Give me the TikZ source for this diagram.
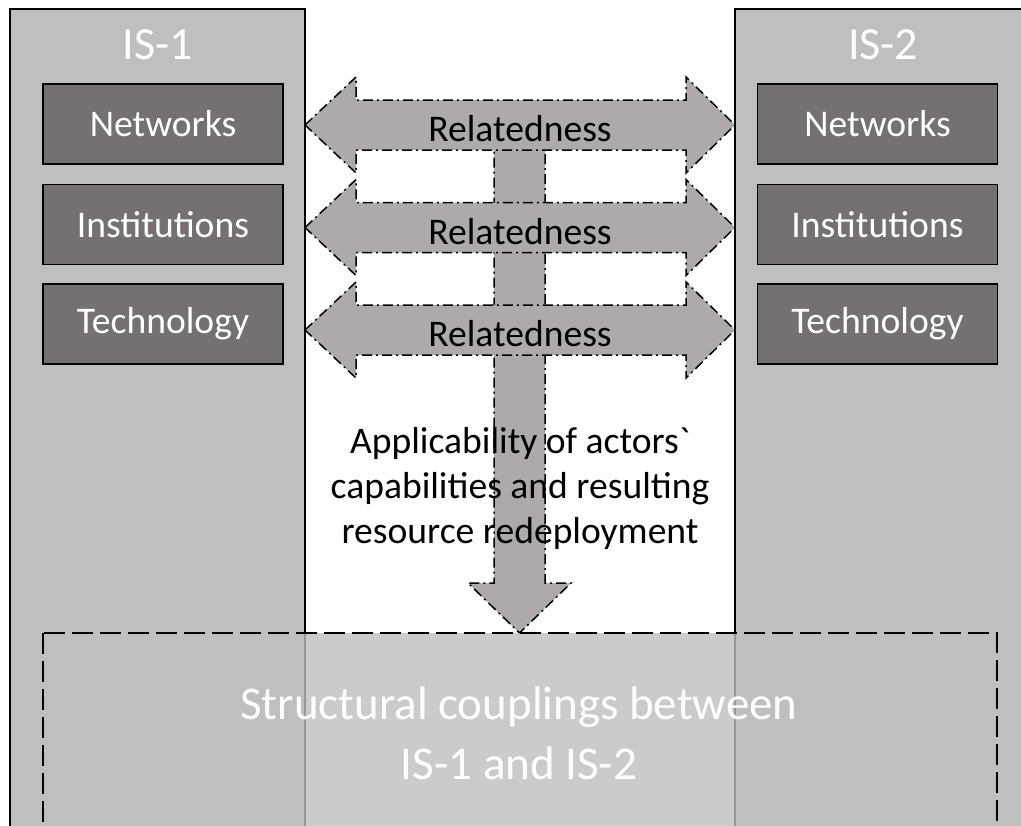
\documentclass[tikz,border=0pt]{standalone}
\usepackage{fontspec}
\setmainfont{Carlito}
\newfontfamily\plaincarlito{Carlito}
\definecolor{colfill}{HTML}{BFBFBF}
\definecolor{boxfill}{HTML}{767171}
\definecolor{arrfill}{HTML}{AEAAAA}
\begin{document}
\begin{tikzpicture}[x=0.5pt,y=-0.5pt,
  column/.style={fill=colfill,draw=black,line width=0.8pt},
  subsys/.style={fill=boxfill,draw=black,line width=0.8pt,minimum width=120pt,minimum height=40pt,text=white,font=\fontsize{18.8}{22.5}\selectfont,inner sep=0pt},
  blockarrow/.style={fill=arrfill,draw=black,line width=0.75pt,dash pattern=on 5pt off 2pt on 1pt off 2pt},
  lbl/.style={font=\fontsize{18.8}{22.5}\selectfont,text=black,inner sep=0pt,align=center},
  title/.style={font=\fontsize{23}{28}\selectfont,text=white,inner sep=0pt},
  couplebox/.style={fill=colfill,fill opacity=0.8,draw=black,line width=1pt,dash pattern=on 10.5pt off 3.5pt},
  coupletext/.style={font=\fontsize{23.5}{30}\selectfont,text=white,inner sep=0pt,align=center}]
\useasboundingbox (0,0) rectangle (1021,825);
\clip (0,0) rectangle (1021,825);
\fill[white] (0,0) rectangle (1021,825);
% columns
\draw[column] (10,9) rectangle (305,860);
\draw[column] (735,9) rectangle (1060,860);
\node[title] (is1) at (157.5,45) {IS-1};
\node[title] (is2) at (883,45) {IS-2};
% subsystem boxes
\node[subsys] (n1) at (163,124) {Networks};
\node[subsys] (i1) at (163,224.5) {Institutions};
\node[subsys] (t1) at (163,324) {Technology};
\node[subsys] (n2) at (877.5,124) {Networks};
\node[subsys] (i2) at (877.5,224.5) {Institutions};
\node[subsys] (t2) at (877.5,324) {Technology};
% vertical arrow
\draw[blockarrow] (494,125) -- (545,125) -- (545,583) -- (571,583) -- (519.5,633) -- (468,583) -- (494,583) -- cycle;
% double arrows
\foreach \c/\nm in {125/r1,227.5/r2,330/r3}{
  \draw[blockarrow] (305,\c) -- (356,\c-48) -- (356,\c-25) -- (686,\c-25) -- (686,\c-48) -- (735,\c)
    -- (686,\c+48) -- (686,\c+25) -- (356,\c+25) -- (356,\c+48) -- cycle;
  \node[lbl] (\nm) at (520,\c+4) {Relatedness};
}
\node[lbl] (app) at (520,488) {Applicability of actors{\plaincarlito`}\\capabilities and resulting\\resource redeployment};
% structural couplings box
\draw[couplebox] (43,633) rectangle (997,880);
\node[coupletext] (sc) at (519,733) {Structural couplings between\\IS-1 and IS-2};
\end{tikzpicture}
\end{document}
